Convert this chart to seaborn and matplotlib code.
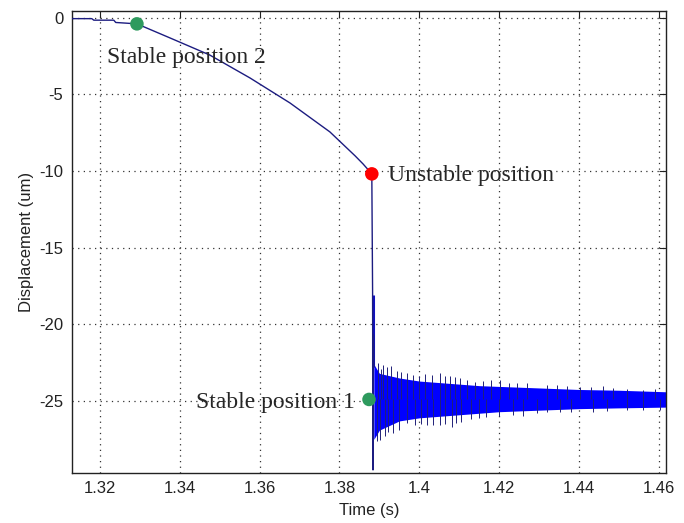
import matplotlib
matplotlib.use('Agg')
import matplotlib.pyplot as plt
import numpy as np
import pandas as pd
import seaborn as sns

# slow drift from stable position 2 up to the unstable point, then the snap
drift_t = [1.313, 1.318, 1.3185, 1.3235, 1.324, 1.3293, 1.3375, 1.3475, 1.3576,
           1.3676, 1.3776, 1.3839, 1.3859, 1.3881, 1.3883, 1.3884, 1.3885, 1.3886]
drift_y = [-0.05, -0.05, -0.15, -0.15, -0.3, -0.39, -1.3, -2.42, -3.92,
           -5.55, -7.44, -9.0, -9.53, -10.18, -18.1, -29.5, -20.7, -22.8]

# thick part of the snap
snap_t = [1.3884]
snap_top = [-18.1]
snap_bot = [-22.8]

# ringing around stable position 1 (solid band envelope)
band_t = [1.3886, 1.390, 1.395, 1.400, 1.405, 1.410, 1.415, 1.420, 1.430, 1.440, 1.450, 1.4618]
band_hi = [-22.6, -23.2, -23.5, -23.7, -23.8, -23.9, -24.0, -24.05, -24.15, -24.25, -24.3, -24.4]
band_lo = [-27.5, -26.9, -26.3, -26.1, -26.0, -25.9, -25.8, -25.7, -25.6, -25.5, -25.45, -25.4]

# spikes sticking out of the band
up_t = [1.3897, 1.3905, 1.3910, 1.3920, 1.3930, 1.3943, 1.3955, 1.3968, 1.3985,
        1.4000, 1.4015, 1.4031, 1.4052, 1.4065, 1.4077, 1.4090, 1.4102, 1.4120,
        1.4139, 1.4160, 1.4180, 1.4202, 1.4225, 1.4244, 1.4270, 1.4319, 1.4345,
        1.4370, 1.4402, 1.4430, 1.4460, 1.4486, 1.4520, 1.4561, 1.4590]
up_y = [-22.54, -22.9, -22.65, -22.8, -22.75, -23.07, -23.1, -23.2, -23.3,
        -23.4, -23.25, -23.3, -23.2, -23.35, -23.4, -23.45, -23.5, -23.6,
        -23.74, -23.7, -23.6, -23.63, -23.8, -23.85, -23.85, -23.95, -23.95,
        -24.0, -24.07, -24.1, -24.05, -24.18, -24.2, -24.29, -24.25]
dn_t = [1.3895, 1.3901, 1.3913, 1.3922, 1.3935, 1.3948, 1.3968, 1.3990, 1.4005,
        1.4018, 1.4035, 1.4052, 1.4065, 1.4081, 1.4093, 1.4105, 1.4130, 1.4150,
        1.4168, 1.4200, 1.4235, 1.4260, 1.4294, 1.4320, 1.4352, 1.4380, 1.4435,
        1.4470, 1.4519, 1.4560, 1.4602]
dn_y = [-27.6, -27.54, -27.3, -27.0, -27.1, -26.9, -26.46, -26.6, -26.5,
        -26.57, -26.6, -26.57, -26.5, -26.67, -26.46, -26.4, -26.2, -26.1,
        -26.02, -26.0, -25.9, -25.95, -25.8, -25.75, -25.7, -25.7, -25.7,
        -25.65, -25.6, -25.6, -25.6]
center_y = -24.9

# marked positions
pts = pd.DataFrame({'t': [1.3293, 1.3881, 1.3874],
                    'y': [-0.39, -10.18, -24.9],
                    'kind': ['stable2', 'unstable', 'stable1']})

xticks = [1.32, 1.34, 1.36, 1.38, 1.4, 1.42, 1.44, 1.46]
xlabels = ['1.32', '1.34', '1.36', '1.38', '1.4', '1.42', '1.44', '1.46']
yticks = [0, -5, -10, -15, -20, -25]
ylabels = ['0', '-5', '-10', '-15', '-20', '-25']

sns.set_style('white')
plt.rcParams['font.family'] = ['Liberation Sans', 'DejaVu Sans']

fig = plt.figure(figsize=(6.84, 5.23), dpi=100)
ax = fig.add_axes([0.105, 0.0956, 0.869, 0.8834])

ax.fill_between(band_t, band_hi, band_lo, color='#0000ff', linewidth=0, zorder=2)
ax.vlines(up_t, center_y, up_y, color='#202078', linewidth=0.7, zorder=2)
ax.vlines(dn_t, center_y, dn_y, color='#202078', linewidth=0.7, zorder=2)
ax.vlines(snap_t, snap_top, snap_bot, color='#1010c0', linewidth=2.2, zorder=3)
sns.lineplot(x=drift_t, y=drift_y, ax=ax, color='#1c1c80', linewidth=1.0,
             sort=False, estimator=None, zorder=3)

sns.scatterplot(data=pts, x='t', y='y', hue='kind',
                palette={'stable2': '#2e9a5e', 'unstable': '#ff0000', 'stable1': '#2e9a5e'},
                s=95, edgecolor='none', legend=False, ax=ax, zorder=4)

serif = ['Liberation Serif', 'DejaVu Serif']
ax.text(1.3218, -2.61, 'Stable position 2', family=serif, fontsize=17, va='center', ha='left')
ax.text(1.3921, -10.31, 'Unstable position', family=serif, fontsize=17, va='center', ha='left')
ax.text(1.3839, -25.13, 'Stable position 1', family=serif, fontsize=17, va='center', ha='right')

ax.set_xlim(1.313, 1.4618)
ax.set_ylim(-29.7, 0.45)
ax.set_xticks(xticks)
ax.set_xticklabels(xlabels)
ax.set_yticks(yticks)
ax.set_yticklabels(ylabels)
ax.tick_params(direction='in', top=True, right=True, length=5, width=0.8,
               labelsize=12, colors='#222222', pad=6)
ax.grid(True, color='#333333', linestyle=(0, (1, 3.5)), linewidth=0.9)
for s in ax.spines.values():
    s.set_color('#222222')
    s.set_linewidth(1.0)
ax.set_xlabel('Time (s)', fontsize=12, color='#222222', labelpad=5)
ax.set_ylabel('Displacement (um)', fontsize=12, color='#222222', labelpad=4)

fig.savefig('out.png', dpi=100)
